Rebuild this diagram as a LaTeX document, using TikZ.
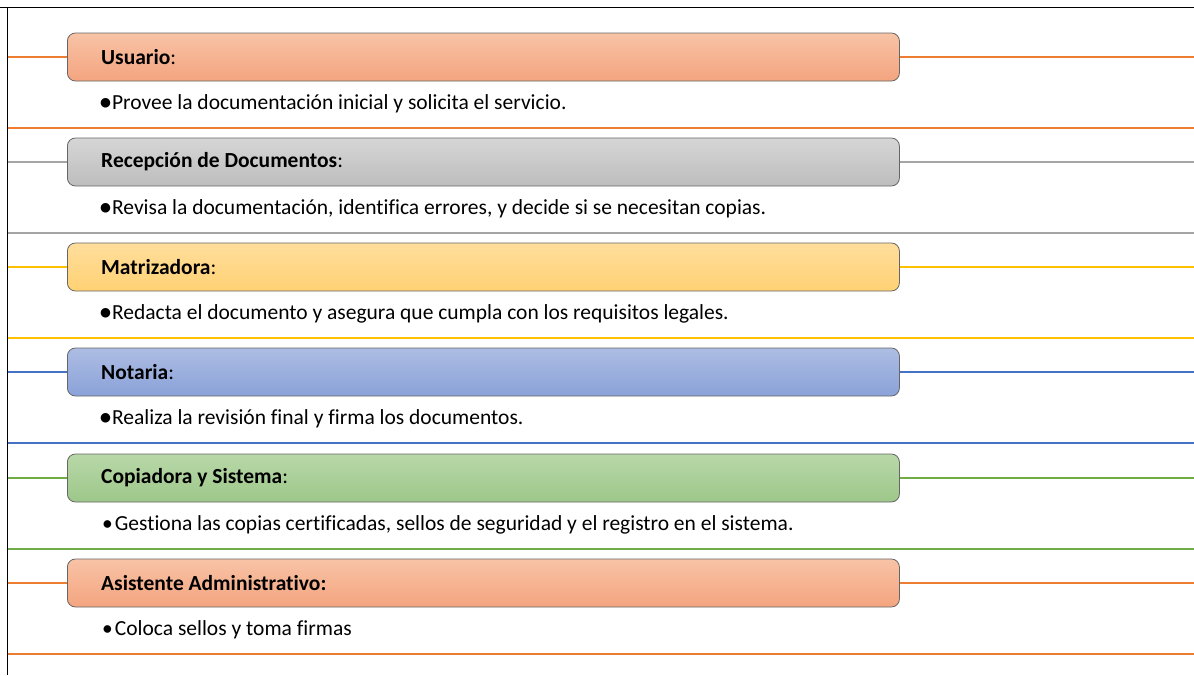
\documentclass[tikz,border=0pt]{standalone}
\usepackage{fontspec}
\setmainfont{Carlito}[Ligatures=NoCommon]
\newfontfamily\symfont{DejaVu Sans}
\definecolor{lorange}{HTML}{ED7D31}
\definecolor{lgray}{HTML}{A5A5A5}
\definecolor{lgold}{HTML}{FFC000}
\definecolor{lblue}{HTML}{4472C4}
\definecolor{lgreen}{HTML}{70AD47}
\definecolor{orTop}{HTML}{F8C3A6}
\definecolor{orBot}{HTML}{F4A47F}
\definecolor{grTop}{HTML}{D6D6D6}
\definecolor{grBot}{HTML}{BDBDBD}
\definecolor{yeTop}{HTML}{FFDE9C}
\definecolor{yeBot}{HTML}{FFD173}
\definecolor{blTop}{HTML}{ADBDE3}
\definecolor{blBot}{HTML}{8AA2D9}
\definecolor{gnTop}{HTML}{B8D8A8}
\definecolor{gnBot}{HTML}{9DC78A}
\tikzset{
  x=1pt,y=-1pt,
  titlebox/.style={draw=black!60,line width=0.8pt,rounded corners=8pt,minimum width=832pt,minimum height=48pt,inner sep=0pt,anchor=west},
  titletext/.style={anchor=west,font=\fontsize{21.5}{24}\selectfont,inner sep=0pt},
  bullettext/.style={anchor=west,font=\fontsize{21.5}{24}\selectfont,inner sep=0pt},
  sep/.style={line width=1.4pt},
}
\newcommand{\bigbul}{\raisebox{3.5pt}{\symfont\fontsize{12.5}{12.5}\selectfont ●}}
\newcommand{\smbul}{•\hspace{2pt}}
\begin{document}
\begin{tikzpicture}
\useasboundingbox (0,0) rectangle (1194,675);
\fill[white] (0,0) rectangle (1194,675);
% rows
\foreach \i/\yc/\yb/\lc/\ct/\cb/\ttl/\btx/\bul in {
  0/57/128/lorange/orTop/orBot/{\textbf{Usuario}:}/{Provee la documentación inicial y solicita el servicio.}/0,
  1/162/233/lgray/grTop/grBot/{\textbf{Recepción de Documentos}:}/{Revisa la documentación, identifica errores, y decide si se necesitan copias.}/0,
  2/267/338/lgold/yeTop/yeBot/{\textbf{Matrizadora}:}/{Redacta el documento y asegura que cumpla con los requisitos legales.}/0,
  3/372/443/lblue/blTop/blBot/{\textbf{Notaria}:}/{Realiza la revisión final y firma los documentos.}/0,
  4/478/549/lgreen/gnTop/gnBot/{\textbf{Copiadora y Sistema}:}/{Gestiona las copias certificadas, sellos de seguridad y el registro en el sistema.}/1,
  5/583/654/lorange/orTop/orBot/{\textbf{Asistente Administrativo:}}/{Coloca sellos y toma firmas}/1} {
  \pgfmathsetmacro{\yt}{\yc+47}
  \node[titlebox,top color=\ct,bottom color=\cb] (box\i) at (67,\yc) {};
  \node[titletext] (title\i) at (101,\yc) {\ttl};
  \coordinate (L\i) at (8,\yc);
  \coordinate (R\i) at (1194,\yc);
  \coordinate (BL\i) at (8,\yb);
  \coordinate (BR\i) at (1194,\yb);
  \draw[sep,draw=\lc] (L\i) -- (box\i.west);
  \draw[sep,draw=\lc] (box\i.east) -- (R\i);
  \draw[sep,draw=\lc] (BL\i) -- (BR\i);
  \ifnum\bul=0
    \node[bullettext] (item\i) at (100,\yt) {\bigbul\hspace{1pt}\btx};
  \else
    \node[bullettext] (item\i) at (102,\yt) {\smbul\btx};
  \fi
}
\draw[line width=1.5pt,black] (0,7.5) -- (1194,7.5);
\draw[line width=1.5pt,black] (7.5,7.5) -- (7.5,675);
\end{tikzpicture}
\end{document}
